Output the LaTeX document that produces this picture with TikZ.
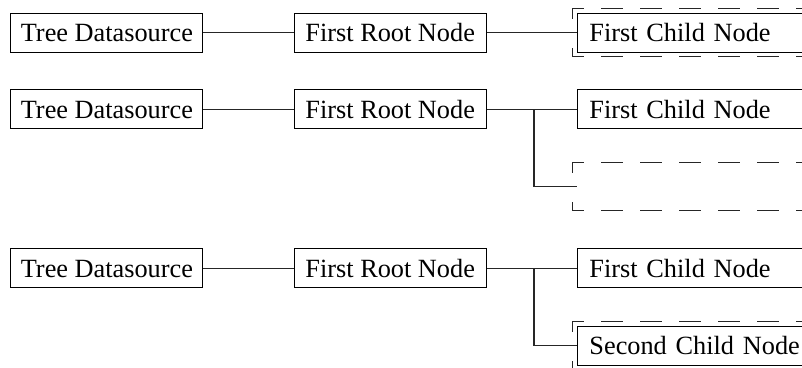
\documentclass[tikz,border=0pt]{standalone}
\usepackage{fontspec}
\setmainfont{Liberation Serif}
\usetikzlibrary{calc}

% dashed selection frame drawn round the west edge of a child slot
\newcommand\selframe[1]{%
  \draw[frameleft] ($(#1)+(-4.6,-24)$) -- ($(#1)+(-4.6,24)$);
  \draw[frameside] ($(#1)+(-4.6,-24)$) -- ($(#1)+(260,-24)$);
  \draw[frameside] ($(#1)+(-4.6,24)$) -- ($(#1)+(260,24)$);
}

\begin{document}
\begin{tikzpicture}[x=1pt,y=-1pt,
  every node/.style={font=\fontsize{26.3}{30}\selectfont},
  box/.style={draw, line width=0.9pt, minimum width=192pt, minimum height=39pt,
    inner sep=0pt, text height=17.9pt, text depth=0pt},
  childbox/.style={box, anchor=west, minimum width=0pt, text width=240pt,
    align=left, inner xsep=11.7pt},
  link/.style={line width=1.1pt, draw=black!85},
  frameside/.style={line width=1pt, draw=black!85, line cap=rect,
    dash pattern=on 21pt off 18pt, dash phase=10.5pt},
  frameleft/.style={line width=1pt, draw=black!85, line cap=rect,
    dash pattern=on 9.5pt off 30pt on 20pt}
]
\useasboundingbox (0,0) rectangle (802,367);
\clip (0,0) rectangle (802,367);

% first tree: one child, selected
\node[box] (t1) at (106.9,32.8) {Tree Datasource};
\node[box] (r1) at (390.2,32.8) {First Root Node};
\node[childbox] (c1) at (577.3,32.8) {First Child Node};
\draw[link] (t1) -- (r1);
\draw[link] (r1) -- (c1);
\selframe{c1.west}

% second tree: an empty slot for a new child
\node[box] (t2) at (106.9,109.3) {Tree Datasource};
\node[box] (r2) at (390.2,109.3) {First Root Node};
\node[childbox] (c2) at (577.3,109.3) {First Child Node};
\coordinate (b2) at (534,109.3);
\coordinate (slot2) at (577.3,186.7);
\draw[link] (t2) -- (r2);
\draw[link] (r2) -- (c2);
\draw[link] (b2) |- (slot2);
\selframe{slot2}

% third tree: the new child filled in
\node[box] (t3) at (106.9,268.3) {Tree Datasource};
\node[box] (r3) at (390.2,268.3) {First Root Node};
\node[childbox] (c3a) at (577.3,268.3) {First Child Node};
\node[childbox] (c3b) at (577.3,345.5) {Second Child Node};
\coordinate (b3) at (534,268.3);
\draw[link] (t3) -- (r3);
\draw[link] (r3) -- (c3a);
\draw[link] (b3) |- (c3b.west);
\selframe{c3b.west}
\end{tikzpicture}
\end{document}
